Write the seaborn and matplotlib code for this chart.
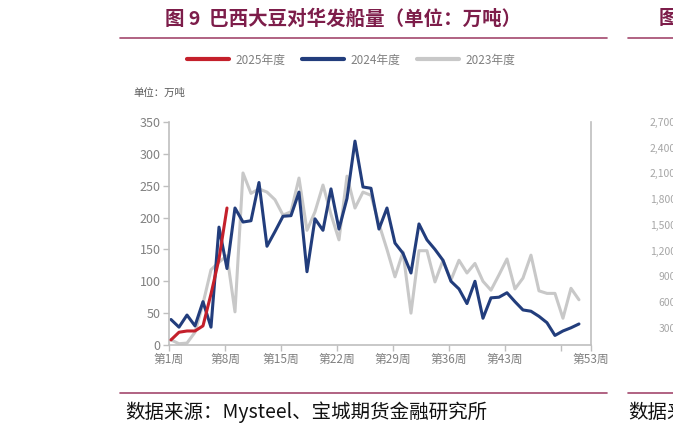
import numpy as np
import pandas as pd
import matplotlib
matplotlib.use('Agg')
import matplotlib.pyplot as plt
import seaborn as sns

# -- data (万吨 per week) --
weeks_2025 = list(range(1, 9))
ship_2025 = [8, 20, 22, 22, 30, 80, 135, 215]

weeks = list(range(1, 53))
ship_2024 = [40, 28, 47, 30, 68, 28, 185, 120, 215, 193, 195, 255, 155, 178, 202, 203,
             240, 115, 198, 180, 245, 182, 230, 320, 248, 246, 182, 215, 160, 144, 113, 190,
             165, 150, 133, 100, 88, 65, 100, 42, 74, 75, 82, 68, 55, 53, 45, 35, 15, 22, 27, 33]
ship_2023 = [8, 2, 3, 20, 65, 118, 130, 140, 52, 270, 238, 245, 240, 228, 204, 209,
             262, 180, 209, 251, 205, 165, 265, 215, 240, 235, 190, 150, 107, 146, 50, 148,
             148, 99, 133, 102, 133, 113, 128, 100, 86, 110, 135, 88, 105, 141, 85, 81, 81, 42, 89, 71]

week_ticks = [1, 8, 15, 22, 29, 36, 43, 50, 53]
week_labels = ['第1周', '第8周', '第15周', '第22周', '第29周', '第36周', '第43周', '', '第53周']
y_ticks = [0, 50, 100, 150, 200, 250, 300, 350]
right_panel_ticks = ['2,700', '2,400', '2,100', '1,800', '1,500', '1,200', '900', '600', '300']

series = [
    ('2023年度', weeks, ship_2023, '#C8C8C8', 1),
    ('2024年度', weeks, ship_2024, '#223D7C', 2),
    ('2025年度', weeks_2025, ship_2025, '#C4202B', 3),
]

sns.set_theme(style='white')
plt.rcParams['font.family'] = ['Noto Sans CJK SC', 'DejaVu Sans']

fig = plt.figure(figsize=(6.73, 4.32), dpi=100)
ax = fig.add_axes([0.2511, 0.2014, 0.627, 0.5162])

handles = {}
for name, x, y, color, z in series:
    df = pd.DataFrame({'week': x, 'value': y})
    sns.lineplot(data=df, x='week', y='value', color=color, linewidth=2.2,
                 ax=ax, zorder=z, label=name)
    handles[name] = ax.get_lines()[-1]

# week w sits at category centre; ticks on category boundaries
ax.set_xlim(0.75, 53.5)
ax.set_ylim(0, 350)
ax.set_xticks([w - 0.25 if w < 53 else 53.5 for w in week_ticks])
ax.set_xticklabels(week_labels)
ax.set_yticks(y_ticks)
ax.set_xlabel('')
ax.set_ylabel('')
ax.tick_params(axis='both', colors='#BFBFBF', labelcolor='#808080',
               direction='out', length=4, width=1, left=True, bottom=True, pad=2)
ax.tick_params(axis='x', labelsize=8.5)
ax.tick_params(axis='y', labelsize=9)
for side in ['left', 'right', 'bottom']:
    ax.spines[side].set_color('#BFBFBF')
    ax.spines[side].set_linewidth(1.2)
ax.spines['top'].set_visible(False)

ax.legend([handles[n] for n in ['2025年度', '2024年度', '2023年度']],
          ['2025年度', '2024年度', '2023年度'],
          loc='center', bbox_to_anchor=(351 / 673, 1 - 60 / 432), bbox_transform=fig.transFigure,
          ncol=3, frameon=False, fontsize=8.5, handlelength=3.6, handletextpad=0.5,
          columnspacing=1.4, labelcolor='#808080')
for line in ax.get_legend().get_lines():
    line.set_linewidth(3)

# header, unit and source
title_color = '#7D1D4A'
rule_color = '#A3486D'
fig.text(343 / 673, 1 - 19 / 432, '图 9  巴西大豆对华发船量（单位：万吨）', ha='center', va='center',
         fontsize=14, fontweight='bold', color=title_color)
fig.text(133 / 673, 1 - 93 / 432, '单位：万吨', ha='left', va='center', fontsize=7.5, color='#595959')
fig.text(125 / 673, 1 - 412 / 432, '数据来源：Mysteel、宝城期货金融研究所', ha='left', va='center',
         fontsize=14, color='#111111')

for x0, x1 in [(120, 607), (628, 680)]:
    fig.add_artist(plt.Line2D([x0 / 673, x1 / 673], [1 - 38 / 432] * 2, color=rule_color, linewidth=1.2))
    fig.add_artist(plt.Line2D([x0 / 673, x1 / 673], [1 - 393 / 432] * 2, color=rule_color, linewidth=1.2))

# edge of the neighbouring panel, cut by the picture edge as in the reference
fig.text(659 / 673, 1 - 19 / 432, '图 10', ha='left', va='center', fontsize=14, fontweight='bold',
         color=title_color)
fig.text(628 / 673, 1 - 412 / 432, '数据来源：Mysteel', ha='left', va='center', fontsize=14, color='#111111')
for i, lab in enumerate(right_panel_ticks):
    fig.text(676 / 673, 1 - (123 + i * 25.7) / 432, lab, ha='right', va='center', fontsize=7.5,
             color='#A6A6A6')

fig.savefig('out.png', dpi=100)
